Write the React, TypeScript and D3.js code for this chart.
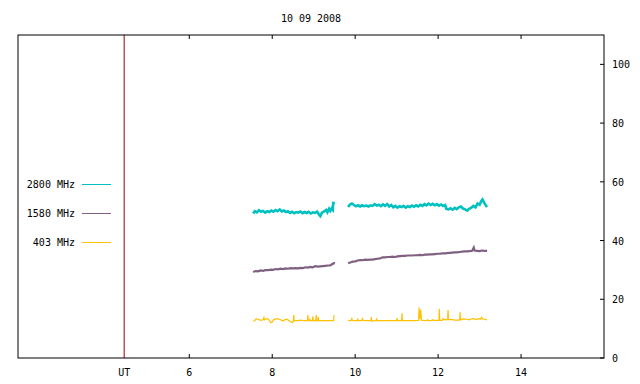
import React from "react";
import * as d3 from "d3";

type Pt = [number, number | null];

const title = "10 09 2008";
const xTicks = [6, 8, 10, 12, 14];
const yTicks = [0, 20, 40, 60, 80, 100];
const utHour = 4.43;

const seriesNames = ["2800 MHz", "1580 MHz", "403 MHz"];
const seriesColors = ["#00c0c0", "#806080", "#ffc000"];

// 2800 MHz flux, hours UT
const flux2800: Pt[] = [
  [7.54, 49.2], [7.58, 50.0], [7.63, 49.6], [7.68, 50.3], [7.73, 49.8], [7.78, 50.1], [7.83, 49.5],
  [7.88, 50.0], [7.93, 49.7], [7.98, 50.2], [8.03, 49.8], [8.08, 50.4], [8.13, 50.0], [8.18, 50.6],
  [8.23, 49.9], [8.28, 50.2], [8.33, 49.7], [8.38, 50.0], [8.43, 49.4], [8.48, 49.8], [8.53, 49.3],
  [8.58, 49.7], [8.63, 49.5], [8.68, 49.9], [8.73, 49.3], [8.78, 49.7], [8.83, 49.4], [8.88, 49.8],
  [8.93, 49.2], [8.98, 49.6], [9.03, 49.4], [9.08, 49.9], [9.13, 48.8], [9.16, 48.3], [9.2, 49.5],
  [9.25, 49.9], [9.3, 50.4], [9.33, 49.6], [9.37, 50.8], [9.4, 50.1], [9.43, 50.9], [9.46, 50.4],
  [9.47, 52.8], [9.51, 52.7], [9.6, null],
  [9.83, 51.4], [9.87, 52.2], [9.92, 52.6], [9.97, 52.1], [10.02, 51.7], [10.07, 52.0], [10.12, 51.6],
  [10.17, 52.0], [10.22, 51.7], [10.27, 51.9], [10.32, 51.6], [10.37, 52.0], [10.42, 51.8], [10.47, 52.4],
  [10.52, 51.9], [10.57, 52.2], [10.62, 51.7], [10.67, 52.3], [10.72, 51.8], [10.77, 52.4], [10.82, 51.6],
  [10.87, 52.1], [10.92, 51.3], [10.97, 51.8], [11.02, 51.2], [11.07, 51.7], [11.12, 51.4], [11.17, 51.8],
  [11.22, 51.2], [11.27, 51.7], [11.32, 51.4], [11.37, 51.9], [11.42, 51.5], [11.47, 52.0], [11.52, 51.6],
  [11.57, 52.2], [11.62, 51.8], [11.67, 52.4], [11.72, 52.0], [11.77, 52.6], [11.82, 52.1], [11.87, 52.5],
  [11.92, 52.0], [11.97, 52.4], [12.02, 51.9], [12.07, 52.3], [12.12, 51.8], [12.17, 52.1], [12.2, 50.8],
  [12.25, 50.6], [12.3, 51.0], [12.35, 50.5], [12.4, 51.1], [12.45, 50.7], [12.5, 51.3], [12.55, 51.6],
  [12.6, 50.9], [12.65, 50.6], [12.7, 50.2], [12.75, 50.8], [12.8, 51.2], [12.85, 51.8], [12.9, 51.3],
  [12.95, 52.6], [13.0, 52.2], [13.04, 53.4], [13.07, 54.0], [13.1, 53.2], [13.13, 52.4], [13.16, 51.8],
  [13.18, 51.4],
];

// 1580 MHz flux
const flux1580: Pt[] = [
  [7.54, 29.3], [7.6, 29.6], [7.66, 29.5], [7.72, 29.8], [7.78, 29.7], [7.84, 29.9], [7.9, 29.9],
  [7.96, 30.1], [8.02, 30.0], [8.08, 30.3], [8.14, 30.2], [8.2, 30.4], [8.26, 30.3], [8.32, 30.5],
  [8.38, 30.4], [8.44, 30.6], [8.5, 30.5], [8.56, 30.6], [8.62, 30.5], [8.68, 30.7], [8.74, 30.6],
  [8.8, 30.9], [8.86, 30.8], [8.92, 31.0], [8.98, 30.9], [9.04, 31.3], [9.1, 31.1], [9.16, 31.2],
  [9.22, 31.3], [9.28, 31.4], [9.34, 31.5], [9.4, 31.5], [9.45, 32.0], [9.49, 32.3], [9.51, 32.1],
  [9.6, null],
  [9.83, 32.3], [9.88, 32.5], [9.94, 32.8], [10.0, 32.9], [10.06, 33.2], [10.12, 33.3], [10.18, 33.3],
  [10.24, 33.5], [10.3, 33.4], [10.36, 33.5], [10.42, 33.5], [10.48, 33.7], [10.54, 33.8], [10.6, 33.9],
  [10.66, 34.3], [10.72, 34.3], [10.78, 34.4], [10.84, 34.4], [10.9, 34.5], [10.96, 34.4], [11.02, 34.6],
  [11.08, 34.7], [11.14, 34.8], [11.2, 34.8], [11.26, 34.9], [11.32, 34.9], [11.38, 34.9], [11.44, 35.0],
  [11.5, 35.0], [11.56, 35.1], [11.62, 35.0], [11.68, 35.2], [11.74, 35.2], [11.8, 35.3], [11.86, 35.3],
  [11.92, 35.4], [11.98, 35.5], [12.04, 35.5], [12.1, 35.6], [12.16, 35.6], [12.22, 35.7], [12.28, 35.8],
  [12.34, 35.9], [12.4, 36.0], [12.46, 36.0], [12.52, 36.1], [12.58, 36.2], [12.64, 36.3], [12.7, 36.3],
  [12.76, 36.4], [12.82, 36.5], [12.86, 37.6], [12.88, 36.6], [12.94, 36.5], [13.0, 36.4], [13.06, 36.6],
  [13.12, 36.5], [13.18, 36.5],
];

// 403 MHz flux
const flux403: Pt[] = [
  [7.54, 12.5], [7.58, 12.7], [7.61, 13.3], [7.66, 13.2], [7.7, 12.9], [7.74, 12.9], [7.78, 13.0],
  [7.8, 13.8], [7.81, 13.0], [7.85, 13.3], [7.9, 13.3], [7.94, 12.6], [7.96, 12.1], [8.0, 12.2],
  [8.03, 13.0], [8.08, 13.3], [8.13, 13.3], [8.18, 13.2], [8.23, 12.8], [8.26, 12.6], [8.3, 13.0],
  [8.35, 13.2], [8.4, 12.8], [8.45, 12.3], [8.49, 12.1], [8.51, 12.5], [8.52, 14.6], [8.53, 12.7],
  [8.6, 12.7], [8.65, 12.8], [8.7, 12.9], [8.75, 12.7], [8.8, 12.7], [8.85, 12.7], [8.86, 14.6],
  [8.87, 12.9], [8.9, 12.7], [8.91, 13.3], [8.92, 12.7], [8.97, 12.7], [8.98, 14.2], [8.99, 12.8],
  [9.05, 12.7], [9.06, 14.6], [9.07, 12.8], [9.1, 12.7], [9.11, 14.0], [9.12, 12.8], [9.2, 12.7],
  [9.3, 12.7], [9.4, 12.7], [9.48, 12.7], [9.49, 14.3], [9.51, 14.3], [9.6, null],
  [9.83, 12.7], [9.9, 12.8], [9.92, 13.4], [9.93, 12.8], [10.0, 12.7], [10.05, 12.8], [10.06, 13.4],
  [10.07, 12.8], [10.15, 12.7], [10.18, 13.4], [10.19, 12.8], [10.3, 12.7], [10.38, 12.7], [10.39, 13.9],
  [10.4, 12.6], [10.5, 12.7], [10.52, 13.3], [10.53, 12.7], [10.7, 12.7], [10.9, 12.7], [11.0, 12.7],
  [11.01, 13.6], [11.02, 12.7], [11.12, 12.7], [11.13, 15.2], [11.14, 12.7], [11.3, 12.7], [11.4, 12.7],
  [11.53, 12.8], [11.54, 17.2], [11.56, 13.3], [11.58, 16.4], [11.6, 12.9], [11.7, 12.7], [11.75, 13.0],
  [11.76, 12.7], [11.85, 12.8], [11.86, 13.0], [11.9, 12.8], [12.02, 12.8], [12.03, 16.7], [12.04, 12.8],
  [12.1, 12.8], [12.12, 13.4], [12.15, 13.1], [12.23, 13.1], [12.24, 16.3], [12.25, 13.1], [12.35, 13.1],
  [12.4, 12.9], [12.52, 13.0], [12.53, 15.6], [12.54, 13.0], [12.6, 13.3], [12.7, 13.2], [12.75, 13.0],
  [12.8, 13.3], [12.85, 13.5], [12.9, 13.1], [12.98, 13.4], [13.02, 13.2], [13.05, 13.9], [13.07, 13.3],
  [13.12, 13.2], [13.18, 13.0],
];

const seriesData = [flux2800, flux1580, flux403];
const seriesWidths = [2.6, 2.2, 1.2];

const W = 640;
const H = 384;
const margin = { top: 35, right: 36, bottom: 26, left: 18 };
const font = "'DejaVu Sans Mono', monospace";

export default function App() {
  const x = d3.scaleLinear().domain([1.87, 16]).range([margin.left, W - margin.right]);
  const y = d3.scaleLinear().domain([0, 110]).range([H - margin.bottom, margin.top]);

  const line = d3
    .line<Pt>()
    .defined((d) => d[1] !== null)
    .x((d) => x(d[0]))
    .y((d) => y(d[1] as number));

  const x0 = margin.left;
  const x1 = W - margin.right;
  const y0 = H - margin.bottom;
  const y1 = margin.top;

  return (
    <svg width={W} height={H} style={{ position: "absolute", left: 0, top: 0, background: "#fff" }} fontFamily={font} fontSize={10}>
      <text x={(x0 + x1) / 2} y={22} textAnchor="middle">{title}</text>

      {/* series */}
      {seriesData.map((d, i) => (
        <path key={i} d={line(d) || ""} fill="none" stroke={seriesColors[i]} strokeWidth={seriesWidths[i]} />
      ))}

      {/* sunrise / UT marker */}
      <line x1={x(utHour)} x2={x(utHour)} y1={y1} y2={y0} stroke="#a00000" strokeWidth={1} />
      <text x={x(utHour)} y={376} textAnchor="middle">UT</text>

      {/* frame */}
      <rect x={x0} y={y1} width={x1 - x0} height={y0 - y1} fill="none" stroke="#000" strokeWidth={1} />

      {/* x ticks, mirrored on top */}
      {xTicks.map((t) => (
        <g key={t}>
          <line x1={x(t)} x2={x(t)} y1={y0} y2={y0 - 4} stroke="#000" />
          <line x1={x(t)} x2={x(t)} y1={y1} y2={y1 + 4} stroke="#000" />
          <text x={x(t)} y={376} textAnchor="middle">{t}</text>
        </g>
      ))}

      {/* right y axis */}
      {yTicks.map((t) => (
        <g key={t}>
          <line x1={x1 - 4} x2={x1} y1={y(t)} y2={y(t)} stroke="#000" />
          <text x={x1 + 8} y={y(t) + 4}>{t}</text>
        </g>
      ))}

      {/* legend */}
      {seriesNames.map((n, i) => (
        <g key={n}>
          <text x={75} y={188 + i * 29} textAnchor="end">{n}</text>
          <line x1={82} x2={111} y1={184.5 + i * 29} y2={184.5 + i * 29} stroke={seriesColors[i]} strokeWidth={1} />
        </g>
      ))}
    </svg>
  );
}
